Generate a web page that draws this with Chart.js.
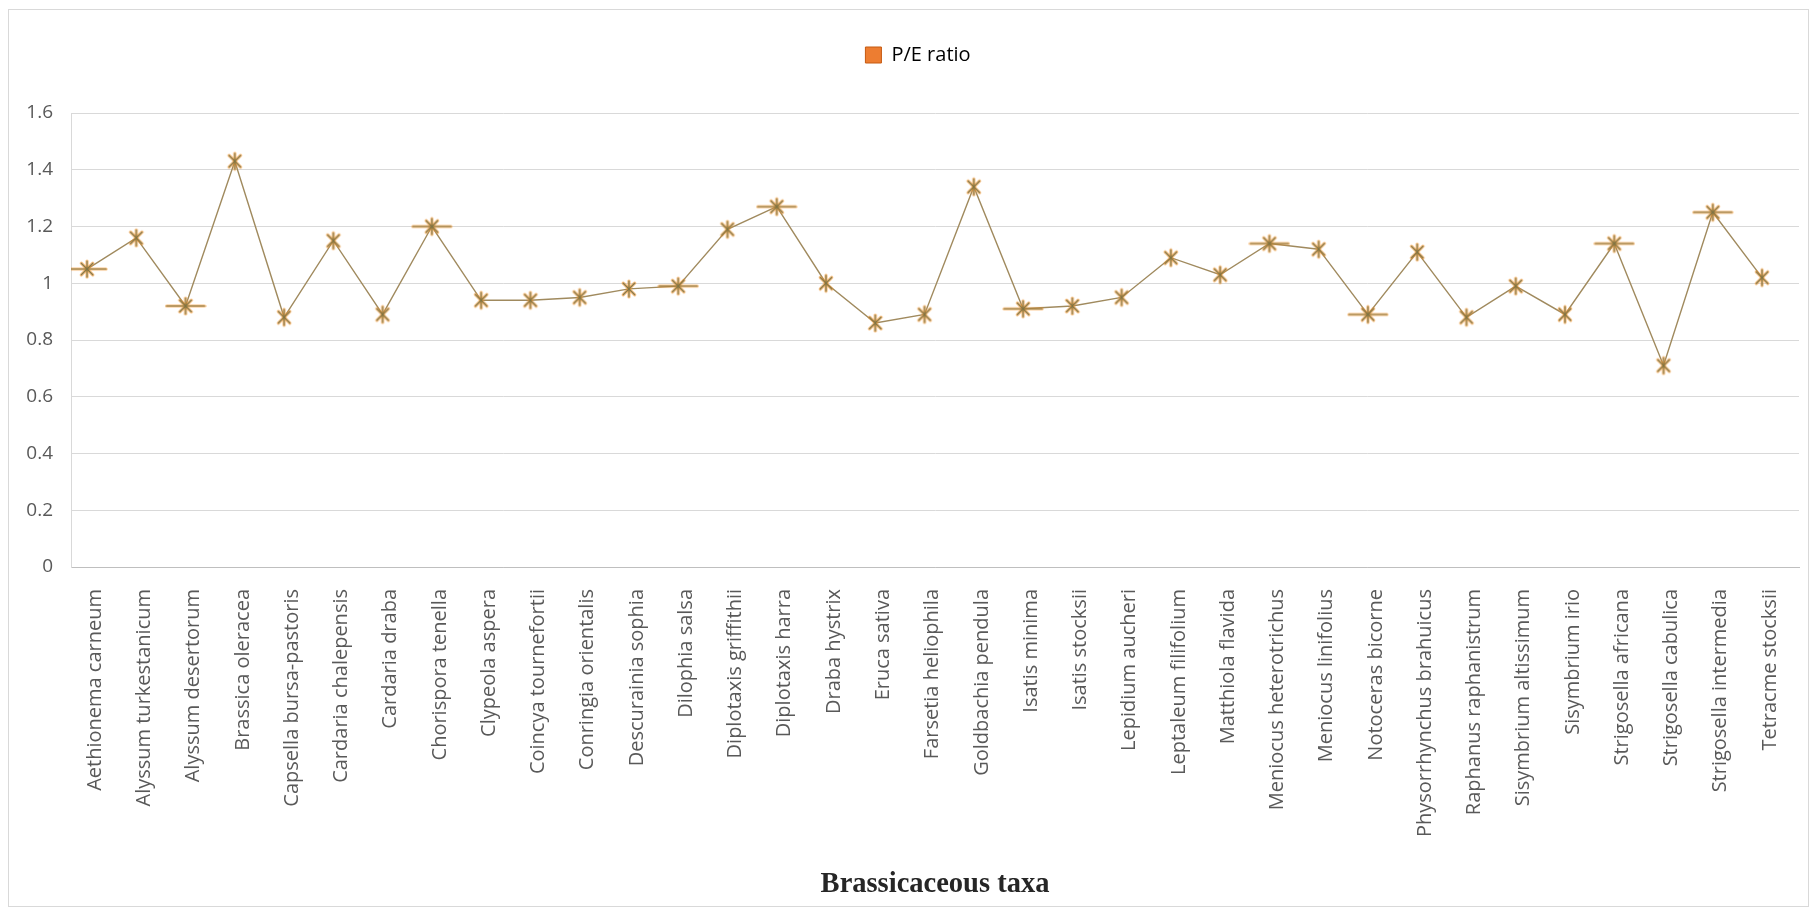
<!DOCTYPE html>
<html>
<head>
<meta charset="utf-8">
<title>P/E ratio of Brassicaceous taxa</title>
<script src="https://cdn.jsdelivr.net/npm/chart.js@4.4.1/dist/chart.umd.min.js"></script>
<style>
  html, body { margin: 0; padding: 0; background: #ffffff; }
  canvas { display: block; }
</style>
</head>
<body>
<canvas id="chart" width="1814" height="910"></canvas>
<script>
// Taxa along the x axis
const taxa = [
  'Aethionema carneum', 'Alyssum turkestanicum', 'Alyssum desertorum', 'Brassica oleracea',
  'Capsella bursa-pastoris', 'Cardaria chalepensis', 'Cardaria draba', 'Chorispora tenella',
  'Clypeola aspera', 'Coincya tournefortii', 'Conringia orientalis', 'Descurainia sophia',
  'Dilophia salsa', 'Diplotaxis griffithii', 'Diplotaxis harra', 'Draba hystrix',
  'Eruca sativa', 'Farsetia heliophila', 'Goldbachia pendula', 'Isatis minima',
  'Isatis stocksii', 'Lepidium aucheri', 'Leptaleum filifolium', 'Matthiola flavida',
  'Meniocus heterotrichus', 'Meniocus linifolius', 'Notoceras bicorne', 'Physorrhynchus brahuicus',
  'Raphanus raphanistrum', 'Sisymbrium altissimum', 'Sisymbrium irio', 'Strigosella africana',
  'Strigosella cabulica', 'Strigosella intermedia', 'Tetracme stocksii'
];

// P/E ratio per taxon
const peRatio = [
  1.05, 1.16, 0.92, 1.43,
  0.88, 1.15, 0.89, 1.20,
  0.94, 0.94, 0.95, 0.98,
  0.99, 1.19, 1.27, 1.00,
  0.86, 0.89, 1.34, 0.91,
  0.92, 0.95, 1.09, 1.03,
  1.14, 1.12, 0.89, 1.11,
  0.88, 0.99, 0.89, 1.14,
  0.71, 1.25, 1.02
];

// Value axis
const yMin = 0;
const yMax = 1.6;
const yStep = 0.2;

// Position axis: taxon index range shown across the plot
const xMin = -0.325;
const xMax = 34.75;

const seriesName = 'P/E ratio';
const axisTitle = 'Brassicaceous taxa';

// Taxa whose marker carries an extra horizontal bar
const barredMarkers = [0, 2, 7, 12, 14, 19, 24, 26, 31, 33];

// Asterisk marker, optionally with a horizontal bar through it
function makeMarker(withBar) {
  const w = withBar ? 42 : 22, h = 22;
  const c = document.createElement('canvas');
  c.width = w; c.height = h;
  const g = c.getContext('2d');
  const cx = w / 2, cy = h / 2, r = 8;
  const d = r * 0.72;
  const strokes = [
    [cx, cy - r, cx, cy + r],
    [cx - d, cy - d, cx + d, cy + d],
    [cx - d, cy + d, cx + d, cy - d]
  ];
  if (withBar) strokes.push([cx - 19, cy, cx + 19, cy]);
  g.lineCap = 'round';
  // soft orange body
  g.strokeStyle = 'rgba(245, 150, 45, 0.6)';
  g.lineWidth = 3.2;
  strokes.forEach(s => { g.beginPath(); g.moveTo(s[0], s[1]); g.lineTo(s[2], s[3]); g.stroke(); });
  // darker core
  g.strokeStyle = '#7f7446';
  g.lineWidth = 1.2;
  strokes.forEach(s => { g.beginPath(); g.moveTo(s[0], s[1]); g.lineTo(s[2], s[3]); g.stroke(); });
  return c;
}

const starMarker = makeMarker(false);
const barMarker = makeMarker(true);
const pointStyles = taxa.map((_, i) => barredMarkers.includes(i) ? barMarker : starMarker);
const points = taxa.map((_, i) => ({ x: i, y: peRatio[i] }));

// Light frame around the whole chart
const framePlugin = {
  id: 'frame',
  beforeDraw(chart) {
    const ctx = chart.ctx;
    ctx.save();
    ctx.fillStyle = '#ffffff';
    ctx.fillRect(0, 0, chart.width, chart.height);
    ctx.strokeStyle = '#d9d9d9';
    ctx.lineWidth = 1;
    ctx.strokeRect(8.5, 9.5, 1800, 897);
    ctx.restore();
  }
};

// Extra room between the legend and the plot, and legend centred over the plot
const legendGapPlugin = {
  id: 'legendGap',
  beforeInit(chart) {
    const fit = chart.legend.fit;
    chart.legend.fit = function () {
      fit.call(this);
      this.height += 38;
    };
  },
  afterLayout(chart) {
    chart.legend.left += 13.5;
    chart.legend.right += 13.5;
  }
};

function draw() {
  new Chart(document.getElementById('chart'), {
    type: 'line',
    data: {
      datasets: [{
        label: seriesName,
        data: points,
        borderColor: '#a08a5e',
        borderWidth: 1.4,
        backgroundColor: '#ED7D31',
        pointStyle: pointStyles,
        pointRadius: 9,
        pointHoverRadius: 9,
        tension: 0,
        fill: false
      }]
    },
    options: {
      responsive: false,
      animation: false,
      devicePixelRatio: 1,
      layout: { padding: { top: 35, left: 10, right: 15, bottom: 0 } },
      plugins: {
        tooltip: { enabled: false },
        legend: {
          position: 'top',
          labels: {
            boxWidth: 16,
            boxHeight: 16,
            padding: 10,
            color: '#595959',
            font: { family: 'Open Sans', size: 20 },
            generateLabels: () => [{
              text: seriesName,
              fillStyle: '#ED7D31',
              strokeStyle: '#C55A11',
              lineWidth: 1,
              hidden: false,
              datasetIndex: 0
            }]
          }
        }
      },
      scales: {
        x: {
          type: 'linear',
          position: 'bottom',
          min: xMin,
          max: xMax,
          grid: { display: false, drawTicks: false },
          border: { display: true, color: '#bfbfbf', width: 1 },
          afterBuildTicks(scale) {
            scale.ticks = taxa.map((_, i) => ({ value: i }));
          },
          ticks: {
            autoSkip: false,
            includeBounds: false,
            maxRotation: 90,
            minRotation: 90,
            padding: 22,
            labelOffset: 8,
            color: '#595959',
            font: { family: 'Open Sans', size: 20 },
            callback: v => taxa[Math.round(v)] ?? ''
          },
          title: {
            display: true,
            text: axisTitle,
            color: '#262626',
            font: { family: 'Liberation Serif', size: 28.5, weight: 'bold' },
            padding: { top: 0, bottom: 8 }
          },
          afterFit(scale) { scale.height = 343; }
        },
        y: {
          min: yMin,
          max: yMax,
          grid: { color: '#d9d9d9', lineWidth: 1, drawTicks: false },
          border: { display: true, color: '#d9d9d9', width: 1 },
          ticks: {
            stepSize: yStep,
            padding: 18,
            color: '#595959',
            font: { family: 'Open Sans', size: 19 },
            callback: v => String(+Number(v).toFixed(1))
          },
          afterFit(scale) { scale.width = 61; }
        }
      }
    },
    plugins: [framePlugin, legendGapPlugin]
  });
}

if (document.fonts && document.fonts.load) {
  Promise.all([
    document.fonts.load('20px "Open Sans"'),
    document.fonts.load('bold 28px "Liberation Serif"')
  ]).then(draw, draw);
} else {
  draw();
}
</script>
</body>
</html>
